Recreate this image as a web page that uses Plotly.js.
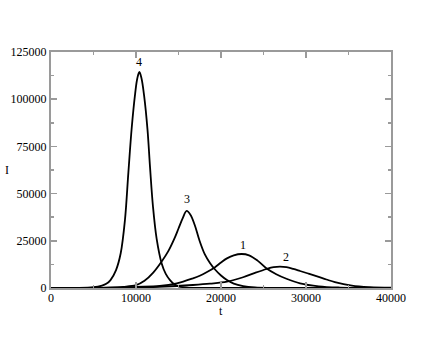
<!DOCTYPE html>
<html>
<head>
<meta charset="utf-8">
<script src="https://cdn.plot.ly/plotly-3.0.1.min.js"></script>
<style>
  html, body { margin: 0; padding: 0; background: #fff; }
  #plot { width: 440px; height: 340px; }
</style>
</head>
<body>
<div id="plot"></div>
<script>
// ============ DATA ============
const T1 = [0, 5000, 8000, 10000, 12800, 14800, 16700, 17500, 18300, 19300, 20000, 20700, 21500, 22430, 23300, 24300, 25370, 26500, 27700, 29300, 31500, 34000, 37000, 40000];
const I1 = [0, 100, 300, 600, 1060, 2490, 5130, 6500, 8300, 11000, 13500, 15700, 17300, 18000, 17300, 14500, 10300, 7300, 4900, 2500, 900, 250, 50, 0];

const T2 = [0, 8000, 12000, 14800, 16700, 18700, 20700, 22600, 24000, 25370, 26200, 26940, 27700, 28500, 29300, 30300, 31400, 32400, 33400, 35400, 37500, 40000];
const I2 = [0, 100, 500, 1060, 1590, 2300, 3340, 5700, 8000, 10060, 11000, 11280, 11000, 10100, 9000, 7600, 6000, 4500, 3100, 1300, 500, 150];

const T3 = [0, 5000, 7000, 8500, 10000, 11000, 12000, 13000, 13800, 14500, 15000, 15500, 15960, 16400, 16900, 17450, 18100, 18700, 19300, 20000, 20700, 21500, 22600, 24000, 26000, 40000];
const I3 = [0, 30, 200, 600, 1500, 3800, 8000, 13900, 19500, 26000, 31500, 37000, 40800, 38800, 33500, 25400, 17800, 13300, 9800, 6600, 4200, 2300, 1000, 300, 80, 0];

const T4 = [0, 3000, 5000, 6000, 6500, 7000, 7650, 8200, 8700, 9100, 9500, 9900, 10150, 10400, 10650, 10950, 11350, 11650, 12000, 12430, 13020, 13500, 14000, 14500, 15000, 16000, 18000, 40000];
const I4 = [0, 0, 400, 1300, 2200, 4200, 9500, 18400, 36000, 61000, 85000, 103000, 111000, 114400, 111000, 102000, 84000, 64000, 43000, 26000, 13000, 7500, 4200, 2000, 900, 200, 0, 0];

const LABEL_TEXT = ['4', '3', '1', '2'];
const LABEL_T = [10390, 16040, 22590, 27650];
const LABEL_I = [119700, 47000, 22800, 16260];

// ============ STYLE ============
const SERIF = 'Liberation Serif, Times New Roman, serif';
const AXIS_GRAY = '#9a9a9a';
const TXT = { family: SERIF, size: 12, color: '#000' };

function curve(t, i){
  return { x: t, y: i, type: 'scatter', mode: 'lines',
    line: { color: '#000', width: 1.8, shape: 'spline', smoothing: 1 },
    hoverinfo: 'skip', showlegend: false };
}

const traces = [curve(T1, I1), curve(T2, I2), curve(T3, I3), curve(T4, I4)];

const annotations = LABEL_TEXT.map((s, k) => ({
  x: LABEL_T[k], y: LABEL_I[k], xref: 'x', yref: 'y', text: s, showarrow: false, font: TXT
}));
// axis titles as plain text (the I is upright in the original)
annotations.push({ xref: 'x domain', yref: 'y domain', x: (7 - 51) / 340, y: (288 - 170) / 236,
  text: 'I', showarrow: false, xanchor: 'center', yanchor: 'middle', font: TXT });
annotations.push({ xref: 'x domain', yref: 'y domain', x: 0.5, y: (288 - 311) / 236,
  text: 't', showarrow: false, xanchor: 'center', yanchor: 'middle', borderpad: 0, font: TXT });

const axisCommon = {
  showgrid: false, zeroline: false,
  showline: true, linecolor: AXIS_GRAY, linewidth: 2, mirror: 'allticks',
  ticks: 'inside', ticklen: 6, tickwidth: 1.5, tickcolor: AXIS_GRAY,
  tickfont: TXT
};

const layout = {
  width: 440, height: 340,
  margin: { l: 51, r: 49, t: 52, b: 52 },
  paper_bgcolor: '#fff', plot_bgcolor: '#fff',
  xaxis: Object.assign({}, axisCommon, {
    range: [0, 40000], dtick: 10000, tick0: 0, tickformat: 'd', ticklabelstandoff: -2,
    minor: { dtick: 5000, ticks: 'inside', ticklen: 3, tickcolor: AXIS_GRAY, tickwidth: 1.5 }
  }),
  yaxis: Object.assign({}, axisCommon, {
    range: [0, 125000], dtick: 25000, tick0: 0, tickformat: 'd',
    minor: { dtick: 12500, ticks: 'inside', ticklen: 3, tickcolor: AXIS_GRAY, tickwidth: 1.5 }
  }),
  annotations: annotations
};

Plotly.newPlot('plot', traces, layout, { displayModeBar: false, staticPlot: true });
</script>
</body>
</html>
